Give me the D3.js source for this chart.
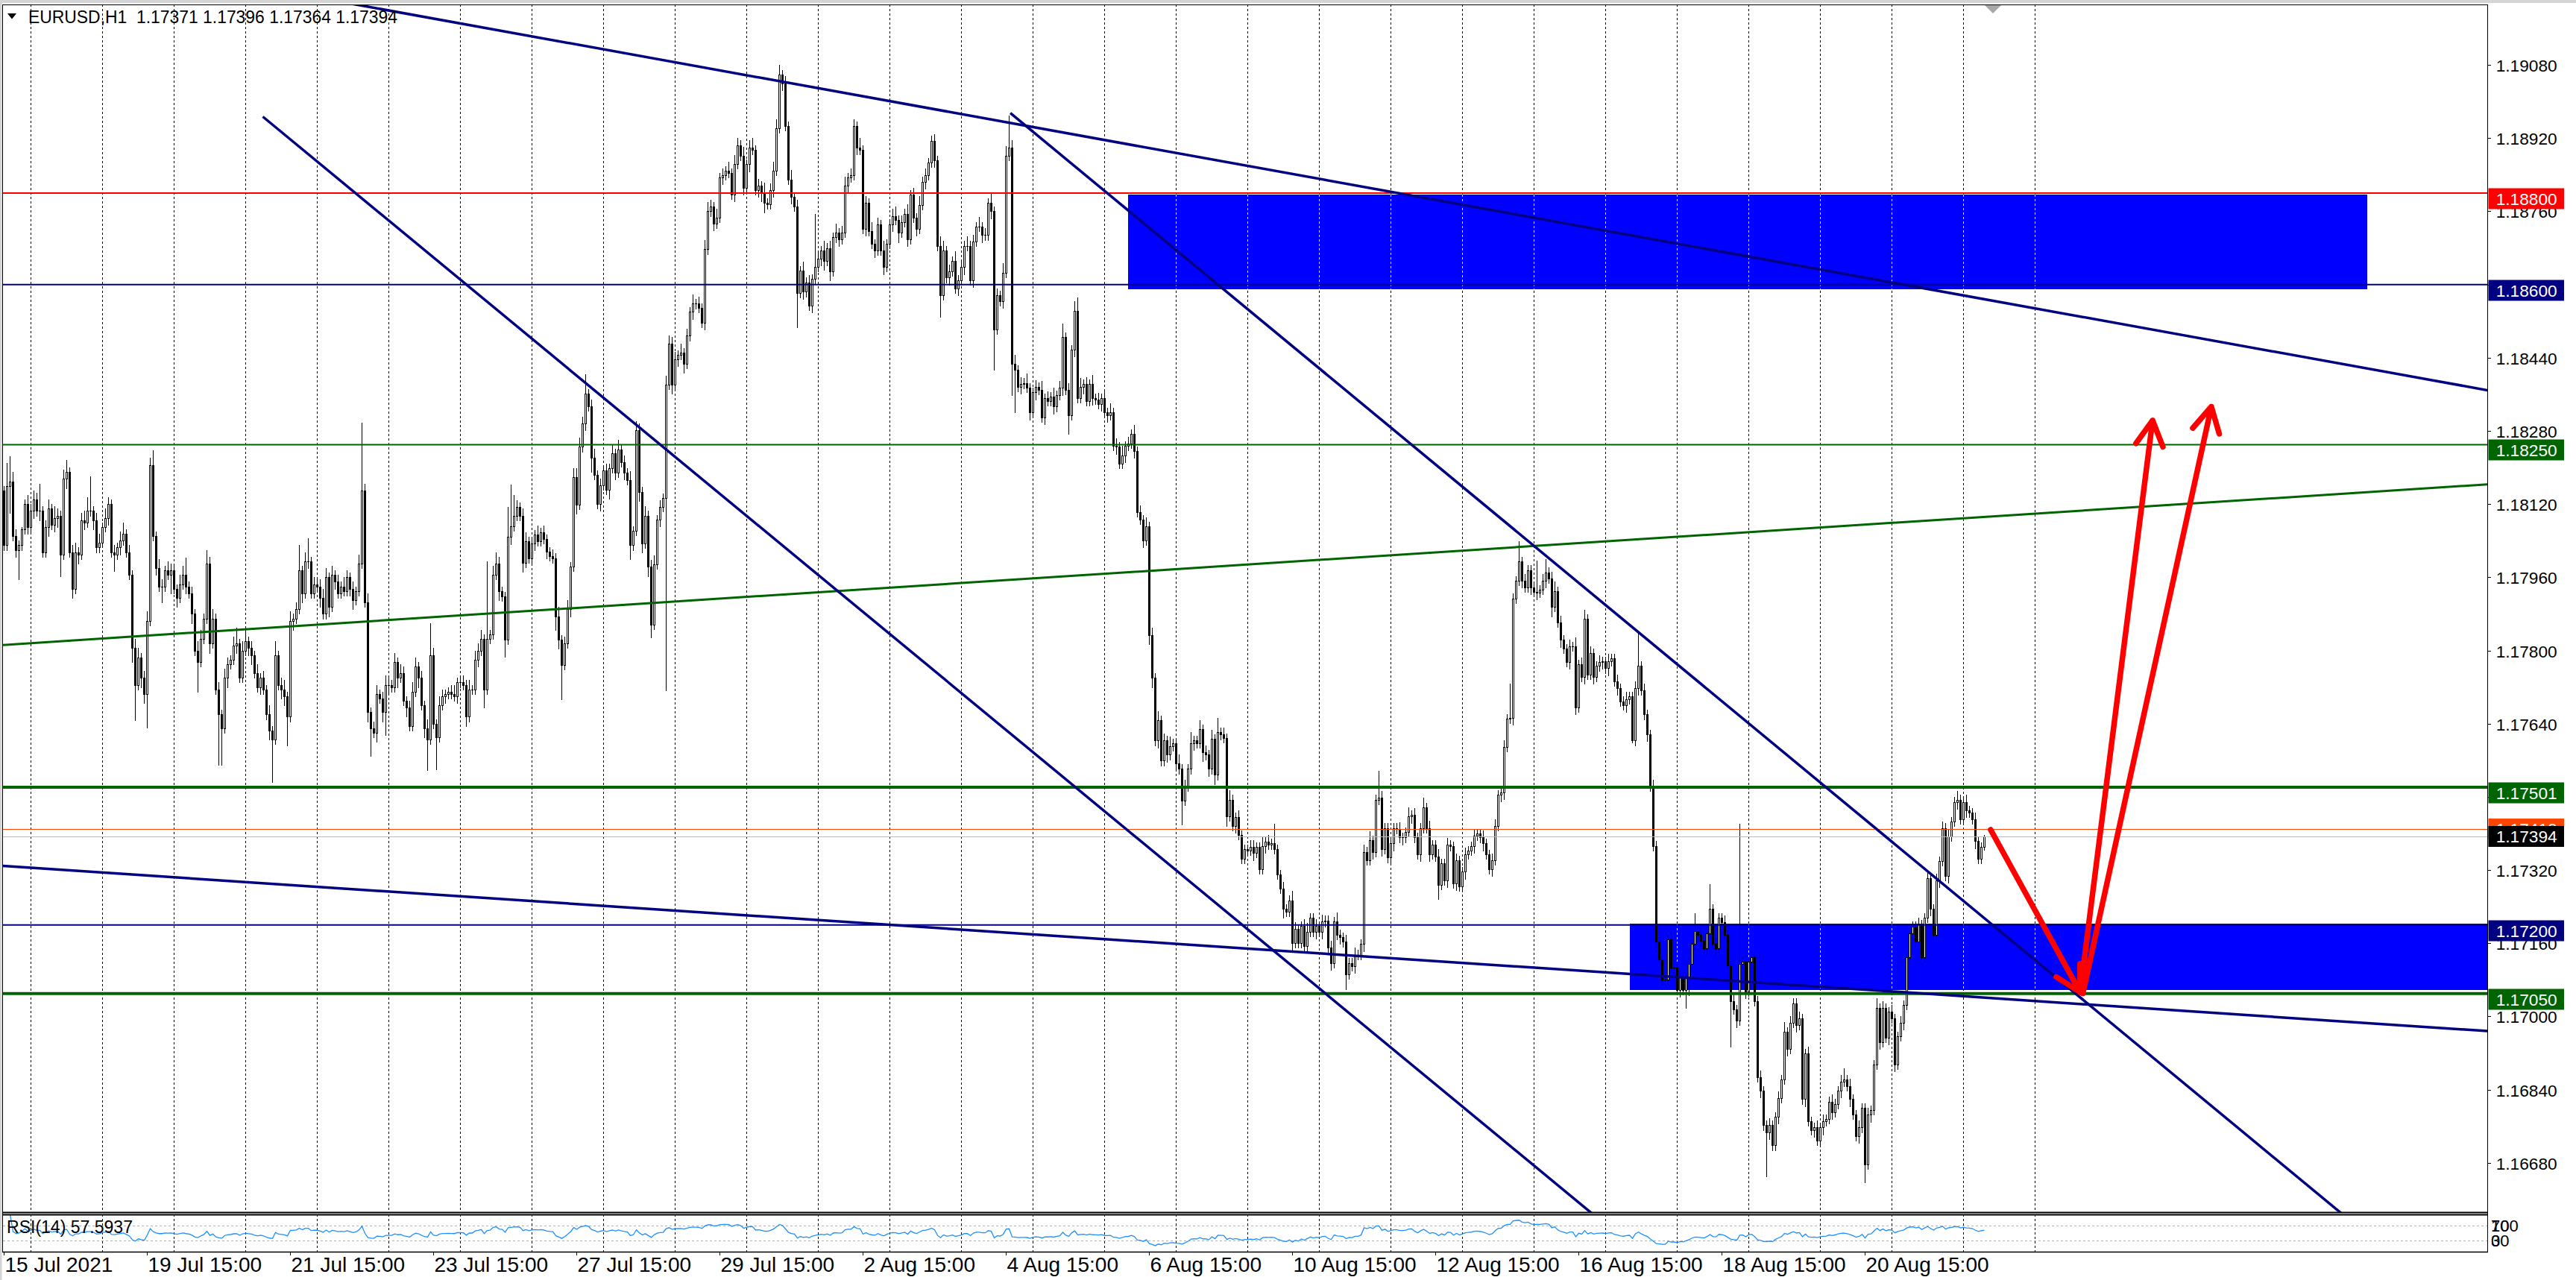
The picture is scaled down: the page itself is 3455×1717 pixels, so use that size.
<!DOCTYPE html>
<html><head><meta charset="utf-8"><title>EURUSD,H1</title>
<script src="https://cdn.jsdelivr.net/npm/d3@7/dist/d3.min.js"></script>
<style>html,body{margin:0;padding:0;background:#fff;overflow:hidden}svg{display:block}text{font-family:"Liberation Sans",Arial,sans-serif}</style>
</head><body><svg id="chart" width="3455" height="1717"></svg>
<script>
// ================= DATA =================
const titleText = "EURUSD,H1  1.17371 1.17396 1.17364 1.17394";
const basePrice = 1.16;      // pip values below are offsets from this price
const pipSize = 0.0001;
const firstOpenPips = 215;
// hourly closes, one line per trading day (15 Jul 15:00 ... 24 Aug 07:00)
const closePips = [
203,216,217,205,202,203,206.5,212,207,
210.5,213,210.5,210.5,201.5,207,211,207.5,209,209.5,201,217.5,219,201.5,193.5,201.5,201,208.5,208,210.5,210.5,208.5,202.5,203.5,
207,209,212,201.5,201,202.5,204,205.5,201.5,196.5,180.5,172.5,178.5,174,170.5,186.5,220.5,205,198,194,194,197.5,196.5,197.5,
193.5,191.5,194.5,196.5,194,192.5,188,180,177.5,182.5,187,199,181.5,187,171.5,166,163,174,177,178,181,181.5,174,180,
182,180.5,179,175,172,174,171.5,166,162.5,160.5,179,172.5,171.5,170,165.5,186.5,187,189,197.5,192.5,199.5,199.5,192.5,194.5,
194,191.5,188,196,189.5,196.5,195,192.5,194,193,196,193.5,191,193,199,215,190.5,166.5,163,162,170.5,169.5,166.5,172.5,
172.5,172,177.5,174,175,169,167.5,163.5,171,176.5,174,168,163,160.5,179,164,161,168,170,170.5,171,170.5,170,173,
173,172.5,165.5,171.5,171.5,178,180,182.5,171.5,182.5,183.5,196.5,199,193,191.8,182.4,204.8,207.2,209.5,211.4,209.5,199.2,203.9,200.2,
203.4,205.3,203.9,205.8,204.4,201.6,200.6,200.2,187.5,182.4,176.8,181.5,189,198.3,217.9,211.9,224.5,229.6,236.2,233.4,222.1,218.4,212.1,216.1,
219.4,215.1,219.8,223.1,218.9,224,221.2,218.9,217.2,203,206.2,228.2,214.7,203.4,209.5,198.3,185.6,198.8,208.6,211.4,213.3,238.1,247,238.1,
243.7,244.6,245.1,242.7,248.8,254,255.8,255.8,254.9,251.6,267.7,276,277.1,273.3,274.6,283.4,283.9,284.9,284.4,279.7,286.3,290.5,288.1,281.1,
286.3,290,289.5,280.6,281.6,280.2,277.8,277.6,280.6,284.9,294.2,305.9,304,294.7,283,279.2,277.1,258.2,263,258.4,260.5,255.4,261.2,263.8,
265.7,267.5,265.2,268,262.9,270.3,271.3,269.9,271.3,281.6,283.4,283.9,294.7,290,289.5,272.2,277.8,271.7,268.9,267.5,273.1,267.5,263.8,268.9,
273.1,275,274.1,271.3,273.6,275.5,269.9,279.7,274.6,272.2,277.4,282.5,283.9,286.7,291.4,287.2,268.5,257.7,267.5,261.5,262.9,265.2,259.1,261,
263.8,268.5,268.5,261,269.4,272.7,272.7,270.8,270.8,277.8,276,250.2,257.7,256.4,262.6,288.2,290,242.6,241.4,237.6,238.3,238.5,237.4,232,
236.4,237.6,237,231,235.2,234.5,235.5,233.3,235.8,237.4,248.5,237,231.4,245.8,254.2,235.2,237.6,238.3,234.5,238.3,235.2,234.8,233.9,235.2,
232,231.4,232,224.8,224.5,220.8,222.7,224.8,225.2,227.3,223.6,210.2,208.6,204,207.1,183.4,174,160.3,164.7,155.9,160.3,157.2,159.1,159.7,
155.3,154.1,147.2,150.3,154.1,159.7,160.3,159.7,162.8,157.8,157.2,154.1,160.7,152.8,162.2,161.6,160.9,143.7,147.4,141.6,143.5,139.7,134.5,136.6,
136.2,137,135.7,137,132.2,137.2,138.2,137.5,137.8,136.6,131,127.9,123.5,122.9,125.4,116,119.1,116,119.8,115.4,118.5,121.6,118.5,119.8,
118.5,120.7,121,115,111.7,120.7,117.9,117.3,116.3,109.2,111.7,111,113.5,113.5,115.8,136,134.1,138.5,136,147.4,147.8,136.6,141.2,134.7,
137.8,141.2,141,139.1,139.1,140.3,143.7,144.1,139.1,135.4,141.2,145.7,141.2,135.4,137.5,135,128.7,133.5,129.7,137.5,137.2,129.1,134.1,128.5,
131.6,135.4,136.2,137.2,139.5,140,139.1,137.8,135.4,132.2,134.1,141.6,148.5,149,158.9,165.1,165.3,191.4,195.2,199.5,195.2,193.8,197.6,193.8,
192.8,192.6,193.3,195.2,197.1,195.7,189.5,193,186.1,182.3,180.4,177.5,180.9,180.9,167.5,177,174.2,186.9,174.7,179.4,174.2,176.6,177.5,177.7,
176.1,177.7,178.3,173.2,171.8,168.9,168,169.4,169.9,160.3,171.8,176.6,171.3,166,161.7,150.3,137.3,116.3,112.5,108.1,108.1,116.8,110.6,110.6,
105.8,108.7,105.8,108.7,111.5,115.8,118.7,117.8,116.5,114.9,118.2,123.5,115.8,114.9,121.6,120.6,117.8,111.1,103.4,101.5,99.1,111.5,112,105.4,
112,113,103.4,86.7,83.8,76.2,74.7,76.2,71.8,78.1,82.1,86.2,96.7,92.9,98.6,102.9,98.1,99.6,81.9,91.9,77.1,75.2,75.7,72.8,
75.7,77.1,77.6,81.4,79,80.9,83.8,85.7,86.2,84.8,81.9,78.5,73.8,75.7,80,67.6,78.5,79.5,89.5,101.9,94.4,101.9,95.3,101,
99.6,89.5,95.7,98.6,102.5,113,118.2,119.7,116.3,120.1,113,121.6,130.2,123.5,117.8,129.7,134,141.2,130.7,139.3,142.6,146.9,147.4,143.1,
146.9,145,144.5,143.1,138.3,134.5,137.1,139.4
];
// upper / lower shadow length of every candle, in pips
const wickUpPips = [
1,5,5.5,2,1.5,1,0.5,1,2,
1.5,2,1.5,6,1,1.5,2,1,2.5,1.5,1,2,2.7,1,1.5,2,1,1.5,2,3,7.5,1,1.5,2,
1,2,1.5,1,1.5,1,2,2.5,1,1.5,1,2,2,1,1.5,2,1.7,3.2,1,2,1.5,1,2,1.5,
1.5,1,2,2,3.8,1,1.5,1,2,2,1,3,1.5,2,1,1.5,1,2,1.5,1,2,3.5,1,2,
2.5,1,1.5,1,2,1,1.5,1,2,1,3,1,1.5,2,1,2,1,1.5,5.5,1,2,5,1,1.5,
1,1.5,2,2,1,2,1,1.5,1,2,1.5,1,1.5,1,2,14.8,1.5,2,1,1.5,2,1,1.5,2,
1.5,1,2,1,2,1.5,1,1.5,2,2,1,1.5,1,2,7,1.5,1,2,1.5,1,1,1.5,2,1,
1,1.5,1,2,1,2,1.5,2,1,17,1,2,2.5,1.5,1,1,6.5,9,4.5,1.5,1,1.5,2,1,
1.5,1,2,1,1.5,1,1,1.5,1,2,1,1.5,2,1,2,2,2,1.5,4.2,1,1.5,2,1,1.5,
1,1.5,1,2,1,2,1,1.5,1,2,1,1.9,1.5,1,2,1,1.5,2,1,1.5,1,2,1.8,1.5,
1.5,1,2,1,1.5,1,2,1,1.5,1,2,2,1.5,1,2,1,1.5,1,2,1,2,1.5,1,2,
1,1.5,2,1,1.5,1,2,1,1.5,2,2,2.1,1,1.5,1,2,1,1.5,1,2,1,1.5,1,11.7,
1.5,1,2,1,1.5,1,2,1,1.5,2,1,1.5,1.4,1,2,1,1.5,1,2,1,1.5,1,2,1,
1,1.5,2,1,1.5,1,2,1,1.5,1,2,1,1.5,1,1.2,1.5,1,2,2,1,1.5,1,2,1,
1.5,1,2,1,1.5,1,2,1,1.5,1,2,1,1.5,1,2,2,7,1.5,2,1,1.5,1,2,1,
1,1.5,1,2,1,1.5,1,2,1,1.5,3,1,1.5,1,2.2,3,2,1,1.5,1,2,1,1.5,1,
1.5,1,2,1,1.5,1,2,1,1.5,1,2,1,1.5,1,2,1,1.5,1,2,1,1.5,1,2,1,
1,2,1,1.5,1,2.5,1,1,2,1,1.5,1,2,1,3,1,1.5,1,2,1,1,1.5,1,1,
1,1.5,1.5,1,1,2,1,1.5,1,4.3,1,1,1.5,1,1,2,1.5,1,1,1.5,2,1,1,1.5,
1,1.5,1,1,1.5,1,2,1,1,1.5,1,1,1.5,1,1,1.5,1,2,1,1,5.9,1.5,1,1,
1.5,1,1,1.5,1,1,2,1,1.5,1,1,2.1,1,1.5,1,1,1.5,1,1,1.5,1,1,1.5,1,
1,1.5,1,1,1.5,1,1,1.5,1,1,1.5,1.5,1,1,1.5,1,7.4,1,1,4.3,1,1.5,1,1,
1,6.9,1,1.5,2.9,1,1.5,2,1,1.5,1,1,1.5,1,2,1,1.5,2,1,1.5,1,1,1.5,1,
1,1.5,1,1,1.5,1,1,1.5,1,1,1.5,7.1,1,1.5,1,1,1.5,1,1,1.5,1,1,1.5,1,
1,1.5,1,1,1.5,1,3.8,1,1.5,1,1,5.4,1,1.5,1,1,1.5,1,1,1.5,1,30.6,1,1.5,
1,1.5,1,1,1.5,1,1,1.5,1,1,1.5,1,2,1,1.5,1,1,1.5,1,1,1.5,1,1,1.5,
1,1.5,1,1,1.5,1,1,1.5,2.4,1,1.5,1,1,1.5,1,1,1.5,1,1,2,1,1.5,1,1,
1.5,1,1,1.5,1,1,1.5,1,1,1.5,1,1,1.5,1,1,1.5,1,1.4,1,1.5,1,1,1.9,1,
1,1.5,1,1,1.5,1,1,0.2
];
const wickDownPips = [
1,1,6,1,1.5,6.5,1,1,1.5,
1,1.5,1,2,1,1,2,1,1.5,2,4.7,1,2,1,2,1,2,1,1.5,1,1,2,1,1,
1,1,1.5,1,3.6,1,1.5,1,1,1,3,7.7,1,2,2,7.3,1,1,1.5,1,3.5,1,1,4,
1,2,1,1,1.5,1,2,1,6.5,1,1,1,2,1,1,11,8,1,2,1,1,1.5,1,1,
1,1.5,2,1,1,1.5,1,1,2,9.3,1,1,2,2,6.3,1,2,1,1,2,1,1.5,1,1,
1,2,1,1,2,1,1.5,1,1,1,1,1.5,2,1,1,1,1,2,6,1,2,1,2,5,
2,1,1,2,1,1,2,1,1,1,2,1,2,6.6,1,1,7,1,1,1.5,1,1,1,1.5,
1,1,2,1,1,1,1.5,1,4,1,1,1,1,2,1,3.8,1,1.5,1,1,1,2,1,1,
1,1.5,1,1,1,1.5,1,1,3,2,7.5,1,1,1.5,1,2,1,1,1.5,1,3,1,1,1.5,
1,1,2,1,1.5,1,1,1.5,1,3,1,1,2,2,1,2,2.8,1,1,1.5,1,42,1,2,
1,1.5,1,2,1,1,1.5,1,1,1,1.5,1,1,1.5,1,1,1.5,1,1,1,1.5,1,1,1.5,
1,1.5,1,1,1.5,2,2,1,1,1.5,1,1,1.5,1,1,1.5,1,7.5,1,1.5,1,1,1.5,1,
1,1.5,2,1,2,1,1,1.5,1,1,1.5,1,1,1.5,1,1,1.5,1,1,1.5,1,1,1.5,1,
1,1.5,1,2,1,1,1.5,1,1,1.5,1,1,1.5,1,1,1.5,1,4.7,1,1,1.5,1,1,1.5,
1,1.5,1,1,1.5,1,1,1.5,1,1,1.5,8.9,1,1,1.5,1,1,6.8,9.4,1,1.5,1,1,1.5,
1,1.5,1,1,1.5,1,1,1.5,1,1,1.5,1,4,1,1.5,1,1,1.5,1,1,1.5,1,1,1.5,
1,1.5,1,1,1.5,1,1,1.5,1,1,1.5,1,1,1.5,1,2,2,1,1.5,1,1,1.5,1,1,
1.5,1,5.2,1,1,1,1.5,1,1,2,1,1.5,1,2,1,1,1,2,1,1,1.5,1,1,1,
1,1,1.5,1,1,1,1.5,1,1,1,1,1,2,1,1,1.5,1,1,1,1.5,1,1,1,1.5,
1,1.5,1,1,1.5,1,1,1.5,1,3.2,1,1,1.5,1,1,1.5,1,1,1.5,1,1,1.5,1,1,
1,1.5,1,1,1.5,1,1,1.5,1,1,1.5,1,1,1.5,1,1,3,1,1,1.5,1,1,1.5,1,
1,1.5,1,1,1.5,1,1,1.5,1,1,1.5,1,1,1.5,1.5,1,1,1.5,1,1,1.5,1,1,1.5,
1,1.5,1,1,1.5,1,2,1,1,1.5,1,1,1.5,1,1.5,1,1,1.5,1,1,1.5,1,1,1.5,
1,1.5,1,1,1.5,1,1,1.5,1,0.5,1,1.5,1,1,1.5,1,1,2,1,1,1.5,1,1,1.5,
1,1.5,1,4,4,1,1,1.5,1,1,1.5,1,1,1.5,1,1,1.5,1,10,1,1.5,1,1,1.5,
1,1.5,1,1,1.5,1,9.6,1.5,1,1,1.5,1,1,1.5,1,1,1.5,1,1,1.5,1,1,1.5,1,
1,1.5,1,1,1.5,1,1,1.5,1,1,1.5,1,1,1.5,1,3.9,1,1.5,1,1,1.5,1,1,1.5,
1,1.5,1,1,1.5,1,1,1.5,1,1,1.5,1,1,1.5,1,1,1.5,1,1,1.5,1,1,1.5,1,
1,1.5,1,1,1.5,1,1,0.7
];
const lastBarOHLC = [1.17371, 1.17396, 1.17364, 1.17394];
const bidPrice = 1.17394, askPrice = 1.17410;
const rsiPeriod = 14;
const rsiLabel = "RSI(14) 57.5937";
const rsiLevels = [70, 30];
const rsiAxisLabels = [["100", 70], ["70", 70], ["0", 30], ["30", 30]];
const timeTickIdx = [0,48,96,144,192,240,288,336,384,432,480,528,576,624];
const timeTickLabels = ["15 Jul 2021","19 Jul 15:00","21 Jul 15:00","23 Jul 15:00","27 Jul 15:00","29 Jul 15:00","2 Aug 15:00","4 Aug 15:00","6 Aug 15:00","10 Aug 15:00","12 Aug 15:00","16 Aug 15:00","18 Aug 15:00","20 Aug 15:00"];
const dayStartIdx = [9,33,57,81,105,129,153,177,201,225,249,273,297,321,345,369,393,417,441,465,489,513,537,561,585,609,633,657,681];
const priceTicks = [1.1668,1.1684,1.1700,1.1716,1.1732,1.1748,1.1764,1.1780,1.1796,1.1812,1.1828,1.1844,1.1860,1.1876,1.1892,1.1908];
const levelPrices = [1.18800, 1.18600, 1.18250, 1.17501, 1.17200, 1.17050];
// zones: [fromBar, toBar, topPrice, bottomPrice]
const zones = [[376.9, 792.4, 1.18797, 1.18589], [545, 900, 1.17203, 1.17058]];
// trend lines: two anchor points [bar, price]
const trendNavyA = [[248.6, 1.19058], [832.6, 1.18369]];
const trendNavyB = [[337.4, 1.18975], [783.6, 1.16570]];
const trendNavyC = [[86.75, 1.18967], [531.9, 1.16572]];
const trendNavyD = [[-0.4, 1.17329], [832.6, 1.16968]];
const trendGreen = [[-0.4, 1.17812], [832.6, 1.18163]];
// red arrows: [from, to] as [bar, price]
const arrows = [
  [[666.1, 1.17408], [696.1, 1.17053]],
  [[696.1, 1.17053], [720.4, 1.18303]],
  [[697.0, 1.17050], [740.1, 1.18333]]
];

// ================= DRAWING =================
const svg = d3.select("#chart");
const PR = 3336, PT = 6, PB = 1626, RT = 1629, RB = 1679;
const x = d3.scaleLinear().domain([0, 832.625]).range([5.5, 3336]);
const y = d3.scaleLinear().domain([1.16572, 1.19209]).range([1626, 8]);
const yr = d3.scaleLinear().domain([0, 100]).range([RB, RT]);
const P = v => basePrice + v * pipSize;

const defs = svg.append("defs");
defs.append("clipPath").attr("id", "clipMain").append("rect")
  .attr("x", 4).attr("y", PT + 1).attr("width", PR - 4).attr("height", PB - PT - 1);
defs.append("clipPath").attr("id", "clipRsi").append("rect")
  .attr("x", 4).attr("y", RT + 1).attr("width", PR - 4).attr("height", RB - RT - 1);

svg.append("rect").attr("width", 3455).attr("height", 1717).attr("fill", "#ffffff");
svg.append("rect").attr("width", 3455).attr("height", 4).attr("fill", "#d4d4d4");
svg.append("rect").attr("width", 2.5).attr("height", 1717).attr("fill", "#d4d4d4");

// bars
const bars = closePips.map((cp, i) => {
  const c = P(cp);
  const o = i === 0 ? P(firstOpenPips) : P(closePips[i - 1]);
  return { i, o, c, h: Math.max(o, c) + wickUpPips[i] * pipSize, l: Math.min(o, c) - wickDownPips[i] * pipSize };
});
{ const lb = bars[bars.length - 1]; [lb.o, lb.h, lb.l, lb.c] = lastBarOHLC; }

const gMain = svg.append("g").attr("clip-path", "url(#clipMain)");
// grid
gMain.selectAll("line.grid").data(dayStartIdx).join("line")
  .attr("x1", d => x(d)).attr("x2", d => x(d)).attr("y1", PT).attr("y2", PB)
  .attr("stroke", "#000").attr("stroke-width", 1).attr("stroke-dasharray", "3,3");
// zones
gMain.selectAll("rect.zone").data(zones).join("rect")
  .attr("x", d => Math.round(x(d[0]))).attr("y", d => Math.round(y(d[2])))
  .attr("width", d => Math.round(x(d[1])) - Math.round(x(d[0])))
  .attr("height", d => Math.round(y(d[3])) - Math.round(y(d[2])))
  .attr("fill", "#0000ff");
zones.forEach(z => {
  dayStartIdx.filter(d => d > z[0] && d < z[1]).forEach(d => {
    gMain.append("line").attr("x1", x(d)).attr("x2", x(d))
      .attr("y1", Math.round(y(z[2]))).attr("y2", Math.round(y(z[3])))
      .attr("stroke", "#ffff00").attr("stroke-width", 1).attr("stroke-dasharray", "3,3");
  });
});
// candles
const gC = gMain.append("g");
bars.forEach(b => {
  const cx = x(b.i);
  gC.append("line").attr("x1", cx).attr("x2", cx)
    .attr("y1", Math.round(y(b.h))).attr("y2", Math.round(y(b.l)) + 1)
    .attr("stroke", "#000").attr("stroke-width", 1);
  const top = Math.round(y(Math.max(b.o, b.c))), bot = Math.round(y(Math.min(b.o, b.c)));
  if (bot - top < 2) {
    gC.append("rect").attr("x", cx - 1.5).attr("y", top).attr("width", 3).attr("height", Math.max(1, bot - top + 1)).attr("fill", "#000");
  } else if (b.c > b.o) {
    gC.append("rect").attr("x", cx - 1).attr("y", top + 0.5).attr("width", 2).attr("height", bot - top)
      .attr("fill", "#fff").attr("stroke", "#000").attr("stroke-width", 1);
  } else {
    gC.append("rect").attr("x", cx - 1.5).attr("y", top).attr("width", 3).attr("height", bot - top + 1).attr("fill", "#000");
  }
});
// horizontal levels
const levelStyle = [["#ff0000", 2], ["#000080", 2], ["#006400", 2], ["#006400", 4], ["#000080", 2], ["#006400", 4]];
levelPrices.forEach((p, k) => {
  gMain.append("line").attr("x1", 0).attr("x2", PR).attr("y1", y(p)).attr("y2", y(p))
    .attr("stroke", levelStyle[k][0]).attr("stroke-width", levelStyle[k][1]);
});
// ask / bid lines
gMain.append("line").attr("x1", 0).attr("x2", PR).attr("y1", Math.round(y(askPrice)) + 0.5).attr("y2", Math.round(y(askPrice)) + 0.5)
  .attr("stroke", "#ff4500").attr("stroke-width", 1);
gMain.append("line").attr("x1", 0).attr("x2", PR).attr("y1", Math.round(y(bidPrice)) + 0.5).attr("y2", Math.round(y(bidPrice)) + 0.5)
  .attr("stroke", "#b8b8b8").attr("stroke-width", 1);
// trend lines
function lineThrough(pts, ray, color, w) {
  const [a, b] = pts;
  const k = (b[1] - a[1]) / (b[0] - a[0]);
  const i0 = ray ? a[0] : -20, i1 = 860;
  gMain.append("line")
    .attr("x1", x(i0)).attr("y1", y(a[1] + k * (i0 - a[0])))
    .attr("x2", x(i1)).attr("y2", y(a[1] + k * (i1 - a[0])))
    .attr("stroke", color).attr("stroke-width", w);
}
lineThrough(trendGreen, false, "#006400", 3);
lineThrough(trendNavyD, false, "#000080", 3.5);
lineThrough(trendNavyA, false, "#000080", 3.5);
lineThrough(trendNavyB, true, "#000080", 3.5);
lineThrough(trendNavyC, true, "#000080", 3.5);
// red arrows
arrows.forEach(([f, t]) => {
  const x1 = x(f[0]), y1 = y(f[1]), x2 = x(t[0]), y2 = y(t[1]);
  const ang = Math.atan2(y2 - y1, x2 - x1), L = 38, sp = 0.5;
  const hx1 = x2 - L * Math.cos(ang - sp), hy1 = y2 - L * Math.sin(ang - sp);
  const hx2 = x2 - L * Math.cos(ang + sp), hy2 = y2 - L * Math.sin(ang + sp);
  gMain.append("path")
    .attr("d", `M${x1},${y1}L${x2},${y2}M${hx1},${hy1}L${x2},${y2}L${hx2},${hy2}`)
    .attr("fill", "none").attr("stroke", "#ff0000").attr("stroke-width", 7.5)
    .attr("stroke-linecap", "round").attr("stroke-linejoin", "round");
});

// RSI panel
function rsiSeries(cl, n) {
  const out = new Array(cl.length).fill(null);
  let g = 0, l = 0;
  for (let i = 1; i < cl.length; i++) {
    const d = cl[i] - cl[i - 1];
    const up = Math.max(d, 0), dn = Math.max(-d, 0);
    if (i <= n) { g += (up - g) / i; l += (dn - l) / i; }
    else { g = (g * (n - 1) + up) / n; l = (l * (n - 1) + dn) / n; }
    out[i] = l === 0 ? 100 : 100 - 100 / (1 + g / l);
  }
  return out;
}
const rsiVals = rsiSeries(bars.map(b => b.c), rsiPeriod);
const gR = svg.append("g").attr("clip-path", "url(#clipRsi)");
gR.selectAll("line.grid").data(dayStartIdx).join("line")
  .attr("x1", d => x(d)).attr("x2", d => x(d)).attr("y1", RT).attr("y2", RB)
  .attr("stroke", "#000").attr("stroke-width", 1).attr("stroke-dasharray", "3,3");
rsiLevels.forEach(v => gR.append("line").attr("x1", 4).attr("x2", PR)
  .attr("y1", Math.round(yr(v)) + 0.5).attr("y2", Math.round(yr(v)) + 0.5)
  .attr("stroke", "#b0b0b0").attr("stroke-width", 1).attr("stroke-dasharray", "3,3"));
gR.append("path").datum(rsiVals.map((v, i) => [i, v]).filter(d => d[1] !== null))
  .attr("d", d3.line().x(d => x(d[0])).y(d => yr(d[1])))
  .attr("fill", "none").attr("stroke", "#1e90ff").attr("stroke-width", 1.3);
svg.append("text").attr("x", 9).attr("y", 1654).attr("font-size", 23).attr("fill", "#000")
  .attr("textLength", 169).attr("lengthAdjust", "spacingAndGlyphs").text(rsiLabel);

// frames
const fr = svg.append("g").attr("fill", "none").attr("stroke", "#000").attr("stroke-width", 1);
fr.append("line").attr("x1", 3.5).attr("x2", 3.5).attr("y1", PT).attr("y2", RB + 0.5);
fr.append("line").attr("x1", 3).attr("x2", PR + 1).attr("y1", PT + 0.5).attr("y2", PT + 0.5);
fr.append("line").attr("x1", PR + 0.5).attr("x2", PR + 0.5).attr("y1", PT).attr("y2", RB + 0.5);
fr.append("line").attr("x1", 3).attr("x2", PR + 1).attr("y1", PB + 0.5).attr("y2", PB + 0.5).attr("stroke-width", 2);
fr.append("line").attr("x1", 3).attr("x2", PR + 1).attr("y1", RT + 0.5).attr("y2", RT + 0.5).attr("stroke-width", 2);
fr.append("line").attr("x1", 3).attr("x2", PR + 1).attr("y1", RB + 0.5).attr("y2", RB + 0.5).attr("stroke-width", 1.5);

// title
svg.append("path").attr("d", "M10,18 L22,18 L16,25.5 Z").attr("fill", "#000");
svg.append("text").attr("x", 38).attr("y", 31).attr("font-size", 23).attr("fill", "#000")
  .attr("textLength", 495).attr("lengthAdjust", "spacingAndGlyphs").style("white-space", "pre").text(titleText);
// chart-shift marker
svg.append("path").attr("d", "M2662,7 L2684,7 L2673,18 Z").attr("fill", "#a8a8a8");

// price axis
const gA = svg.append("g");
const boxCenters = levelPrices.map(p => Math.round(y(p)) + 7.5);
priceTicks.forEach(p => {
  const yy = Math.round(y(p)) + 0.5;
  gA.append("line").attr("x1", PR).attr("x2", PR + 5).attr("y1", yy).attr("y2", yy).attr("stroke", "#000");
  // a tick label lying right under a level label box is hidden by it (as in the reference)
  if (boxCenters.some(c => Math.abs(c - yy) < 10)) return;
  gA.append("text").attr("x", 3347.7).attr("y", yy + 8).attr("font-size", 22.5).attr("fill", "#000")
    .attr("textLength", 82).attr("lengthAdjust", "spacingAndGlyphs").text(p.toFixed(5));
});
function priceBox(p, fill, top) {
  gA.append("rect").attr("x", 3337.5).attr("y", top).attr("width", 101.5).attr("height", 28).attr("fill", fill);
  gA.append("text").attr("x", 3347.7).attr("y", top + 22).attr("font-size", 22.5).attr("fill", "#fff")
    .attr("textLength", 82).attr("lengthAdjust", "spacingAndGlyphs").text(p.toFixed(5));
}
const levelBoxFill = ["#ff0000", "#000080", "#006400", "#006400", "#000080", "#006400"];
levelPrices.forEach((p, k) => priceBox(p, levelBoxFill[k], Math.round(y(p)) - 6.5));
priceBox(askPrice, "#ff4500", Math.round(y(askPrice)) - 14);
priceBox(bidPrice, "#000000", Math.round(y(bidPrice)) - 14);

// RSI axis labels (overprinted, as MT4 does in a small window)
rsiAxisLabels.forEach(([t, v]) => {
  svg.append("text").attr("x", 3341).attr("y", Math.round(yr(v)) + 8).attr("font-size", 22).attr("fill", "#000").text(t);
});

// time axis
timeTickIdx.forEach((idx, k) => {
  const xx = x(idx);
  svg.append("line").attr("x1", xx).attr("x2", xx).attr("y1", RB).attr("y2", RB + 5).attr("stroke", "#000");
  svg.append("text").attr("x", xx + 1).attr("y", 1706).attr("font-size", 28).attr("fill", "#000")
    .style("font-family", '"Liberation Sans Narrow","Liberation Sans",Arial,sans-serif')
    .text(timeTickLabels[k]);
});
</script></body></html>
